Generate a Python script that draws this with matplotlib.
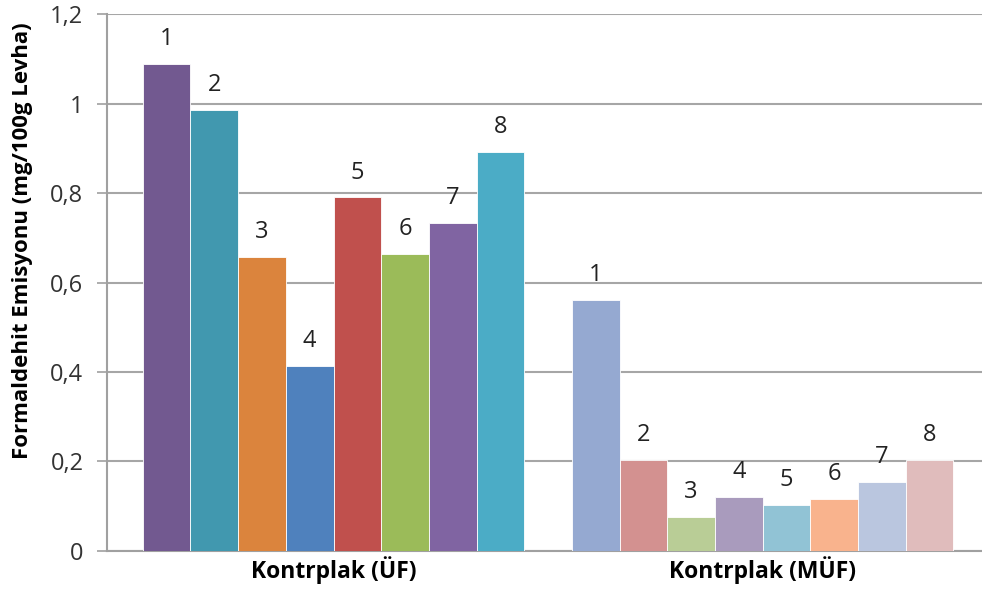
import numpy as np
import matplotlib
matplotlib.use('Agg')
import matplotlib.pyplot as plt
from matplotlib.ticker import FuncFormatter

plt.rcParams['font.family'] = ['Open Sans', 'DejaVu Sans']

# ---------------------------------------------------------------------------- #
#                     Formaldehit emisyonu - kontrplak                         #
# ---------------------------------------------------------------------------- #

groups = ['Kontrplak (ÜF)', 'Kontrplak (MÜF)']
bar_labels = ['1', '2', '3', '4', '5', '6', '7', '8']
uf_values = [1.088, 0.986, 0.658, 0.414, 0.790, 0.664, 0.733, 0.892]
muf_values = [0.561, 0.203, 0.076, 0.121, 0.103, 0.116, 0.155, 0.203]

uf_colors = ['#725990', '#4198AF', '#DB843D', '#4F81BD', '#C0504D', '#9BBB59', '#8064A2', '#4BACC6']
muf_colors = ['#95A9D1', '#D39190', '#B9CD96', '#A99BBD', '#91C3D5', '#F9B38D', '#BAC6DF', '#E0BCBC']

fig = plt.figure(figsize=(9.82, 5.94), dpi=100)
ax = fig.add_axes([0.109, 0.0724, 0.891, 0.904])

ind = np.arange(8)
ax.bar(ind, uf_values, 1.0, color=uf_colors, edgecolor='white', linewidth=0.6, zorder=3)
ax.bar(ind + 9, muf_values, 1.0, color=muf_colors, edgecolor='white', linewidth=0.6, zorder=3)

for x, v, lab in zip(list(ind) + list(ind + 9), uf_values + muf_values, bar_labels * 2):
    ax.annotate(lab, (x, v), xytext=(0, 13.5), textcoords='offset points',
                ha='center', va='baseline', fontsize=17, color='#222222', zorder=4)

ax.set_xlim(-1.25, 17.1)
ax.set_ylim(0, 1.2)
ax.set_yticks(np.arange(0, 1.21, 0.2))
ax.yaxis.set_major_formatter(FuncFormatter(lambda v, p: '0' if v == 0 else ('1' if abs(v - 1) < 1e-9 else f'{v:.1f}'.replace('.', ','))))
ax.set_xticks([3.5, 12.5])
ax.set_xticklabels(groups, fontsize=16.5, fontweight='bold')
ax.tick_params(axis='x', length=0, pad=4)
ax.tick_params(axis='y', labelsize=17, length=7, color='#A0A0A0', width=1.2, pad=10, labelcolor='#333333')

ax.grid(axis='y', color='#A6A6A6', linewidth=1.5, zorder=0)
for s in ['top', 'right']:
    ax.spines[s].set_visible(False)
ax.spines['left'].set_color('#A0A0A0')
ax.spines['left'].set_linewidth(1.5)
ax.spines['bottom'].set_color('#A0A0A0')
ax.spines['bottom'].set_linewidth(1.5)

ax.set_ylabel('Formaldehit Emisyonu (mg/100g Levha)', fontsize=16, fontweight='bold')
ax.yaxis.set_label_coords(-0.085, 0.577)

plt.savefig('out.png', dpi=100)
